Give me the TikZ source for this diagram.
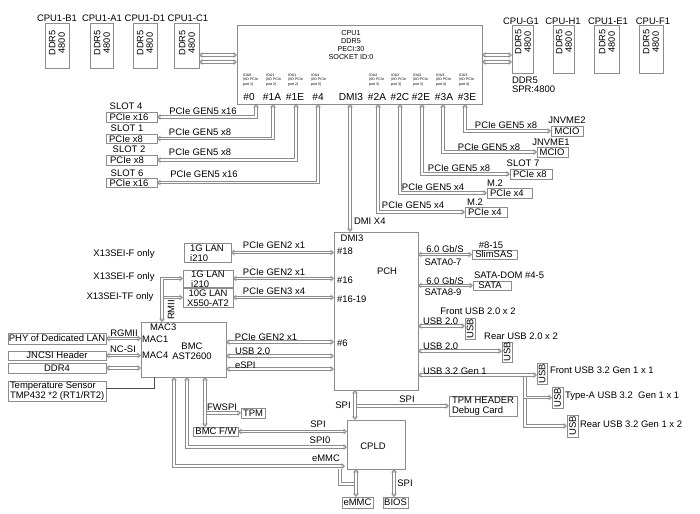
\documentclass[tikz,border=0pt]{standalone}
\usepackage{fontspec}
\setmainfont{Liberation Sans}
\usetikzlibrary{arrows.meta,fit}
\begin{document}
\begin{tikzpicture}[x=0.75pt,y=-0.75pt,
  every node/.style={font=\fontsize{7.1}{7.7}\selectfont, inner sep=0pt, outer sep=0pt},
  box/.style={draw=black!45, line width=0.6pt, fit={#1}, inner sep=0pt},
  lbl/.style={align=center},
  lft/.style={anchor=west, align=left},
  rot/.style={rotate=90, align=center},
  small/.style={font=\fontsize{5.4}{6.1}\selectfont},
  tiny/.style={font=\fontsize{2.7}{3.2}\selectfont, anchor=north west, align=left},
  port/.style={font=\fontsize{7.6}{8}\selectfont},
  dimm/.style={font=\fontsize{6.9}{7.2}\selectfont},
  link/.style={draw=black!45, line width=0.65pt, double=white, double distance=1.1pt},
  conn/.style={link, {Triangle[open,length=2.6pt,width=4.4pt]}-{Triangle[open,length=2.6pt,width=4.4pt]}},
  connr/.style={link, -{Triangle[open,length=2.6pt,width=4.4pt]}},
  sline/.style={draw=black!70, line width=0.7pt}
]
\fill[white] (0,0) rectangle (700,514);
\useasboundingbox (0,0) rectangle (700,514);

% ---------------- DIMMs ----------------
\node[box={(45,23)(69,68)}] (dB1) {};
\node[box={(90,23)(113,68)}] (dA1) {};
\node[box={(133,23)(157,68)}] (dD1) {};
\node[box={(174,23)(199,68)}] (dC1) {};
\node[box={(512,25)(533,73)}] (dG1) {};
\node[box={(553,25)(574,73)}] (dH1) {};
\node[box={(594,25)(619,73)}] (dE1) {};
\node[box={(639,25)(663,73)}] (dF1) {};
\foreach \n/\x/\y/\t in {lB1/57/18/CPU1-B1, lA1/102/18/CPU1-A1, lD1/145/18/CPU1-D1, lC1/188/18/CPU1-C1,
  lG1/521/21/CPU-G1, lH1/563/21/CPU-H1, lE1/608/21/CPU1-E1, lF1/653/21/CPU-F1}
  \node[lbl] (\n) at (\x,\y) {\t};
\foreach \n/\x/\y in {rB1/57/43, rA1/102/43, rD1/145/43, rC1/187/43, rG1/523/42, rH1/564/42, rE1/607/42, rF1/651/42}
  \node[rot, dimm] (\n) at (\x,\y) {DDR5\\4800};
\node[lft] (spr1) at (512,80) {DDR5};
\node[lft] (spr2) at (512,89) {SPR:4800};

% ---------------- CPU ----------------
\node[box={(237,25)(482,104)}] (cpu) {};
\node[small, lbl] (cput) at (351,45) {CPU1\\DDR5\\PECI:30\\SOCKET ID:0};
\foreach \n/\x/\a/\b in {i0/243/IOU0/port 1), i1/266/IOU1/port 2), i2/288/IOU1/port 2), i3/311/IOU4/port 5),
  i4/369/IOU2/port 3), i5/391/IOU2/port 3), i6/413/IOU2/port 3), i7/436/IOU3/port 4), i8/459/IOU3/port 4)}
  \node[tiny] (\n) at (\x,74) {\a\\(IIO PCIe\\\b};
\foreach \n/\x/\t in {h0/249/\#0, h1/272/\#1A, h2/295/\#1E, h3/318/\#4, h4/351/DMI3, h5/377/\#2A,
  h6/400/\#2C, h7/421/\#2E, h8/444/\#3A, h9/467/\#3E}
  \node[port] (\n) at (\x,97) {\t};

\coordinate (p0) at (256,104);
\coordinate (p1A) at (273,104);
\coordinate (p1E) at (296,104);
\coordinate (p4) at (318,104);
\coordinate (pD) at (350,104);
\coordinate (p2A) at (378,104);
\coordinate (p2C) at (400,104);
\coordinate (p2E) at (422,104);
\coordinate (p3A) at (443,104);
\coordinate (p3E) at (465,104);

% memory links
\coordinate (mla) at (199,55);
\coordinate (mlb) at (199,62);
\coordinate (mra) at (512,55);
\coordinate (mrb) at (512,62);
\draw[conn] (mla) -- (mla -| cpu.west);
\draw[conn] (mlb) -- (mlb -| cpu.west);
\draw[conn] (mra -| cpu.east) -- (mra);
\draw[conn] (mrb -| cpu.east) -- (mrb);

% ---------------- Slots (left) ----------------
\node[box={(106,112)(157,122)}] (s4) {};
\node[box={(106,134)(157,143)}] (s1) {};
\node[box={(106,155)(157,165)}] (s2) {};
\node[box={(106,178)(157,187)}] (s6) {};
\node (s4l) at (126,106) {SLOT 4};
\node (s1l) at (127,128) {SLOT 1};
\node (s2l) at (129,149) {SLOT 2};
\node (s6l) at (127,173) {SLOT 6};
\node (s4t) at (129,117.5) {PCIe x16};
\node (s1t) at (126,139) {PCIe x8};
\node (s2t) at (127,160.5) {PCIe x8};
\node (s6t) at (129,183) {PCIe x16};
\draw[conn] (p0) |- (s4.east);
\draw[conn] (p1A) |- (s1.east);
\draw[conn] (p1E) |- (s2.east);
\draw[conn] (p4) |- (s6.east);
\node (c0) at (203,111) {PCIe GEN5 x16};
\node (c1) at (200,132) {PCIe GEN5 x8};
\node (c2) at (200,152) {PCIe GEN5 x8};
\node (c3) at (204,174) {PCIe GEN5 x16};

% ---------------- Right of CPU ----------------
\node[box={(551,126)(583,136)}] (mc2) {};
\node[box={(537,147)(568,157)}] (mc1) {};
\node[box={(510,169)(552,179)}] (s7) {};
\node[box={(487,188)(532,198)}] (mtwoa) {};
\node[box={(465,207)(507,217)}] (mtwob) {};
\node (mc2l) at (567,120) {JNVME2};
\node (mc2t) at (567,131) {MCIO};
\node (mc1l) at (551,142) {JNVME1};
\node (mc1t) at (552,152) {MCIO};
\node (s7l) at (523,163) {SLOT 7};
\node[lft] (s7t) at (513,174) {PCIe x8};
\node (mtwoal) at (495,183) {M.2};
\node[lft] (mtwoat) at (490,193) {PCIe x4};
\node (mtwobl) at (475,202) {M.2};
\node[lft] (mtwobt) at (468,212) {PCIe x4};
\draw[conn] (p3E) |- (mc2.west);
\draw[conn] (p3A) |- (mc1.west);
\draw[conn] (p2E) |- (s7.west);
\draw[conn] (p2C) |- (mtwoa.west);
\draw[conn] (p2A) |- (mtwob.west);
\node (c4) at (506,125) {PCIe GEN5 x8};
\node (c5) at (489,147) {PCIe GEN5 x8};
\node (c6) at (459,168) {PCIe GEN5 x8};
\node (c7) at (433,187) {PCIe GEN5 x4};
\node (c8) at (413,205) {PCIe GEN5 x4};

% ---------------- PCH ----------------
\node[box={(334,232)(418,390)}] (pch) {};
\draw[conn] (pD) -- (pD |- pch.north);
\node[lft] (dmix4) at (354,221) {DMI X4};
\node (pchd) at (352,238) {DMI3};
\node[lft] (p18) at (337,251) {\#18};
\node (pcht) at (387,271) {PCH};
\node[lft] (p16) at (337,280) {\#16};
\node[lft] (p1619) at (337,299) {\#16-19};
\node[lft] (p6) at (337,343) {\#6};

% ---------------- LAN ----------------
\node[box={(184,243)(231,262)}] (lan1) {};
\node[box={(183,270)(233,287)}] (lan2) {};
\node[box={(183,288)(233,307)}] (lan3) {};
\node[align=left] (lan1t) at (207,253) {1G LAN\\ i210};
\node[align=left] (lan2t) at (208,279) {1G LAN\\ i210};
\node[lbl] (lan3t) at (208,298) {10G LAN\\X550-AT2};
\node (x1) at (124,254) {X13SEI-F only};
\node (x2) at (124,277) {X13SEI-F only};
\node (x3) at (120,297) {X13SEI-TF only};
\draw[conn] (lan1.east) -- (lan1.east -| pch.west);
\draw[conn] (lan2.east) -- (lan2.east -| pch.west);
\draw[conn] (lan3.east) -- (lan3.east -| pch.west);
\node (c9) at (274,245) {PCIe GEN2 x1};
\node (c10) at (274,272) {PCIe GEN2 x1};
\node (c11) at (274,291) {PCIe GEN3 x4};

% ---------------- BMC ----------------
\node[box={(141,322)(226,377)}] (bmc) {};
\node[lft] (mac3) at (150,327) {MAC3};
\node[lft] (mac1) at (142,339) {MAC1};
\node[lft] (mac4) at (142,355) {MAC4};
\node[lbl] (bmct) at (192,351) {BMC\\AST2600};

\coordinate (rm) at (162,322);
\coordinate (rmtop) at (162,278.5);
\coordinate (rmb) at (162,297.5);
\draw[connr] (rmb) -- (rmb -| lan3.west);
\draw[conn] (rm) -- (rmtop) -- (rmtop -| lan2.west);
\node[rot] (rmii) at (171,310) {RMII};

\node[box={(8,333)(106,344)}] (phy) {};
\node[box={(8,351)(106,360)}] (jn) {};
\node[box={(8,363)(106,373)}] (ddr4) {};
\node[box={(8,381)(106,401)}] (temp) {};
\node (phyt) at (57,338.5) {PHY of Dedicated LAN};
\node (jnt) at (57,355.5) {JNCSI Header};
\node (ddr4t) at (57,368) {DDR4};
\node[lft] (tempt) at (10,391) {Temperature Sensor\\TMP432 *2 (RT1/RT2)};
\draw[conn] (phy.east) -- (phy.east -| bmc.west);
\draw[conn] (jn.east) -- (jn.east -| bmc.west);
\draw[conn] (ddr4.east) -- (ddr4.east -| bmc.west);
\node (rgmii) at (124,333) {RGMII};
\node (ncsi) at (123,349) {NC-SI};
\coordinate (tl) at (106,388);
\coordinate (tx) at (154,377);
\draw[sline] (tl) -| (tx);

\coordinate (b1) at (226,342);
\coordinate (b2) at (226,356);
\coordinate (b3) at (226,369);
\draw[conn] (b1) -- (b1 -| pch.west);
\draw[conn] (b2) -- (b2 -| pch.west);
\draw[conn] (b3) -- (b3 -| pch.west);
\node (c12) at (266,337) {PCIe GEN2 x1};
\node[lft] (c13) at (235,351) {USB 2.0};
\node[lft] (c14) at (235,365) {eSPI};

% ---------------- PCH right ----------------
\node[box={(472,250)(517,259)}] (sas) {};
\node[box={(473,281)(511,290)}] (sata) {};
\node (sast) at (494,254.5) {SlimSAS};
\node (satat) at (490,285.5) {SATA};
\node (sasl) at (491,245) {\#8-15};
\node[lft] (satal) at (474,275) {SATA-DOM \#4-5};
\draw[conn] (sas.west -| pch.east) -- (sas.west);
\draw[conn] (sata.west -| pch.east) -- (sata.west);
\node (c15) at (445,249) {6.0 Gb/S};
\node (c16) at (443,262) {SATA0-7};
\node (c17) at (445,281) {6.0 Gb/S};
\node (c18) at (443,292) {SATA8-9};

\node[box={(465,318)(475,339)}] (uf) {};
\node[box={(502,342)(512,362)}] (ur) {};
\node[rot] (uft) at (470,328.5) {USB};
\node[rot] (urt) at (507,352) {USB};
\node (ufl) at (478,311) {Front USB 2.0 x 2};
\node (url) at (521,336) {Rear USB 2.0 x 2};
\coordinate (u1) at (418,326);
\coordinate (u2) at (418,351);
\draw[conn] (u1) -- (u1 -| uf.west);
\draw[conn] (u2) -- (u2 -| ur.west);
\node[lft] (c19) at (423,321) {USB 2.0};
\node[lft] (c20) at (423,346) {USB 2.0};

\node[box={(537,363)(547,384)}] (u3a) {};
\node[box={(552,387)(563,408)}] (u3b) {};
\node[box={(567,415)(578,437)}] (u3c) {};
\node[rot] (u3at) at (542,373.5) {USB};
\node[rot] (u3bt) at (557.5,397.5) {USB};
\node[rot] (u3ct) at (572.5,426) {USB};
\node[lft] (u3al) at (550,370) {Front USB 3.2 Gen 1 x 1};
\node[lft] (u3bl) at (565,396) {Type-A USB 3.2\ \ Gen 1 x 1};
\node[lft] (u3cl) at (580,424) {Rear USB 3.2 Gen 1 x 2};
\coordinate (u3) at (418,375);
\coordinate (j3) at (525,375);
\draw[connr] (j3) |- (u3c.west);
\draw[connr] (j3) |- (u3b.west);
\draw[conn] (u3) -- (u3 -| u3a.west);
\node[lft] (c21) at (423,371) {USB 3.2 Gen 1};

% ---------------- TPM header / CPLD ----------------
\node[box={(449,396)(517,416)}] (tpmh) {};
\node[lft] (tpmht) at (452,406) {TPM HEADER\\Debug Card};
\coordinate (sp) at (355,406);
\draw[connr] (sp) -- (sp -| tpmh.west);
\node (c22) at (407,399) {SPI};

\node[box={(347,420)(405,469)}] (cpld) {};
\node (cpldt) at (373,446) {CPLD};
\coordinate (pc1) at (355,390);
\draw[conn] (pc1) -- (pc1 |- cpld.north);
\node (c23) at (343,405) {SPI};

\node[box={(342,497)(373,508)}] (emmc) {};
\node[box={(383,497)(408,508)}] (bios) {};
\node (emmct) at (357.5,502.5) {eMMC};
\node (biost) at (395.5,502.5) {BIOS};
\coordinate (ce) at (356,469);
\coordinate (cb) at (394,469);
\draw[conn] (ce) -- (ce |- emmc.north);
\draw[conn] (cb) -- (cb |- bios.north);
\node (c24) at (405,483) {SPI};

% ---------------- BMC bottom ----------------
\node[box={(193,427)(238,436)}] (bmcfw) {};
\node[box={(241,408)(265,418)}] (tpm) {};
\node (bmcfwt) at (216,431.5) {BMC F/W};
\node (tpmt) at (253,413) {TPM};
\coordinate (bb1) at (174,377);
\coordinate (bb2) at (187,377);
\coordinate (bb3) at (205,377);
\coordinate (fw) at (205,413);
\coordinate (em1) at (345,466);
\coordinate (em2) at (340,469);
\coordinate (em3) at (354,484);
\coordinate (s0) at (347,447);
\draw[connr] (fw) -- (fw -| tpm.west);
\draw[conn] (bb3) -- (bb3 |- bmcfw.north);
\draw[conn] (bb1) |- (em1);
\draw[link] (em2) |- (em3);
\draw[conn] (bb2) |- (s0);
\draw[conn] (bmcfw.east) -- (bmcfw.east -| cpld.west);
\node (c25) at (222,407) {FWSPI};
\node (c26) at (318,424) {SPI};
\node (c27) at (320,440) {SPI0};
\node (c28) at (326,458) {eMMC};
\end{tikzpicture}
\end{document}
